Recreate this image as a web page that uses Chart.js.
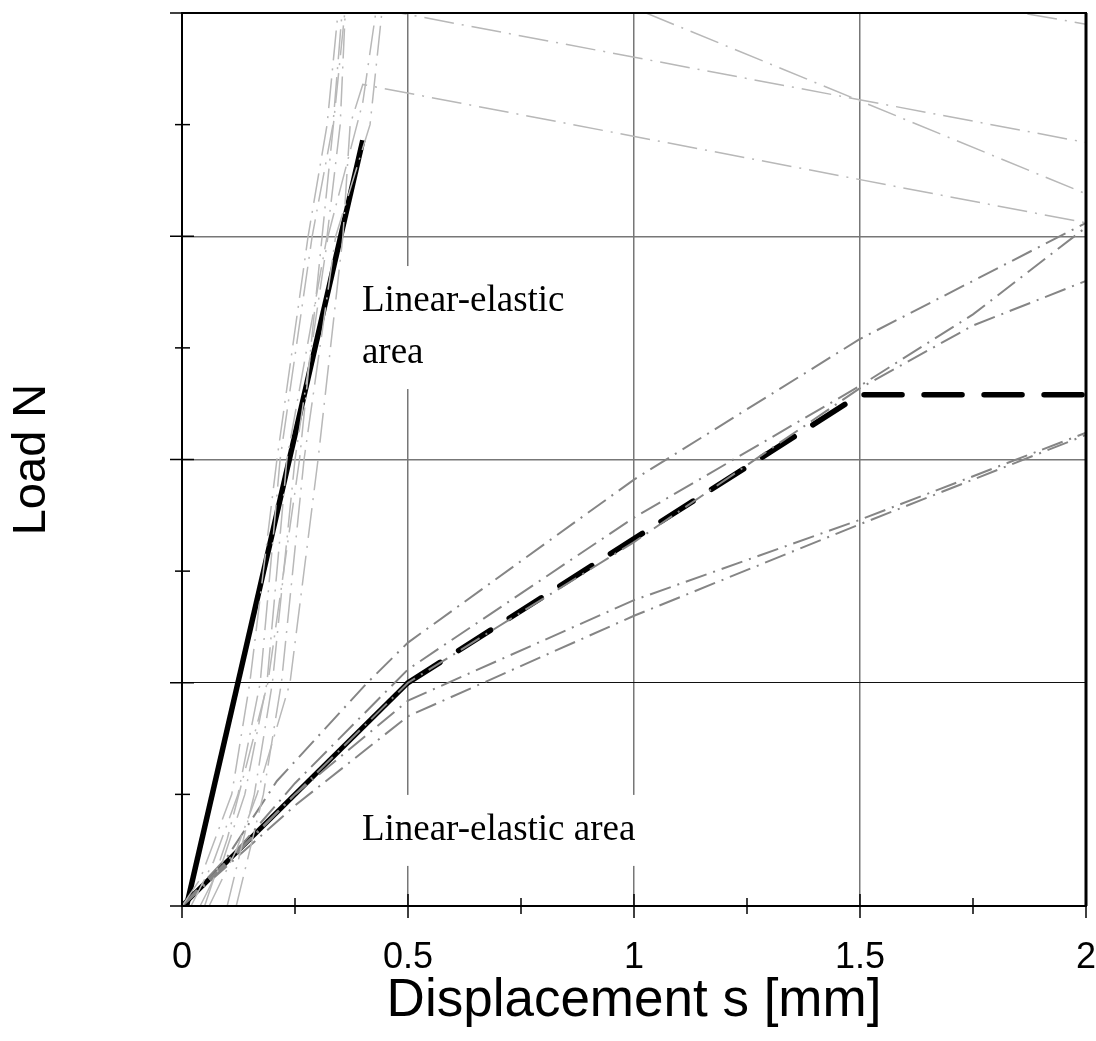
<!DOCTYPE html>
<html>
<head>
<meta charset="utf-8">
<script src="https://cdn.jsdelivr.net/npm/chart.js@4.4.1/dist/chart.umd.min.js"></script>
<style>
  body { margin: 0; background: #fff; }
</style>
</head>
<body>
<canvas id="loadChart" width="1096" height="1041"></canvas>
<script>
'use strict';

// Axis ticks
var xMajorTicks = [0, 0.5, 1, 1.5, 2];
var xMinorTicks = [0.25, 0.75, 1.25, 1.75];
var yMajorTicks = [0, 1, 2, 3, 4];
var yMinorTicks = [0.5, 1.5, 2.5, 3.5];

// Idealised lines (black)
var stiffLine = [[0.01, 0], [0.40, 3.43]];
var softLine = [[0, 0], [0.5, 1.0]];
var softDashed = [[0.5, 1.0], [1.5, 2.29], [2, 2.29]];

// Measured curves, steep group (light grey)
var steep1 = [[0, 0], [0.04, 0.12], [0.11, 0.5], [0.15, 1], [0.21, 2], [0.279, 3], [0.321, 3.5], [0.345, 4], [0.355, 4.3]];
var steep2 = [[0.02, 0], [0.07, 0.2], [0.124, 0.5], [0.173, 1], [0.217, 2], [0.288, 3], [0.334, 3.5], [0.354, 4], [0.36, 4.3]];
var steep3 = [[0.04, 0], [0.09, 0.2], [0.139, 0.5], [0.188, 1], [0.232, 2], [0.321, 3], [0.35, 3.5], [0.361, 4], [0.37, 4.3]];
var steep4 = [[0.06, 0], [0.12, 0.25], [0.166, 0.5], [0.239, 1], [0.301, 2], [0.356, 3], [0.372, 3.5], [0.40, 3.68], [2, 3.06]];
var steep5 = [[0.1, 0], [0.16, 0.5], [0.2, 1], [0.25, 2], [0.323, 3], [0.40, 3.6], [0.43, 4.02], [2, 3.42]];
var steep6 = [[0.12, 0], [0.18, 0.5], [0.22, 1], [0.27, 2], [0.34, 3], [0.416, 3.5], [0.442, 4.0], [0.45, 4.48], [2, 3.19]];
var steep7 = [[0.05, 0], [0.1, 0.3], [0.19, 1], [0.26, 2], [0.31, 3], [0.36, 4], [0.44, 4.5], [2, 3.95]];

// Measured curves, soft group (mid grey)
var soft1 = [[0, 0], [0.1, 0.22], [0.21, 0.56], [0.41, 1.0], [0.5, 1.18], [1, 1.91], [1.5, 2.54], [2, 3.06]];
var soft2 = [[0, 0], [0.1, 0.2], [0.25, 0.55], [0.5, 1.06], [1, 1.74], [1.5, 2.33], [1.75, 2.65], [2, 3.04]];
var soft3 = [[0, 0], [0.1, 0.19], [0.25, 0.5], [0.5, 1.0], [1, 1.63], [1.5, 2.32], [1.75, 2.6], [2, 2.8]];
var soft4 = [[0, 0], [0.1, 0.2], [0.25, 0.5], [0.5, 0.92], [1, 1.37], [1.5, 1.73], [2, 2.12]];
var soft5 = [[0, 0], [0.1, 0.18], [0.25, 0.45], [0.5, 0.85], [1, 1.30], [1.5, 1.71], [2, 2.11]];

// Text labels inside the plot
var areaLabels = [
  { lines: ['Linear-elastic', 'area'], x: 0.398, y: 2.665 },
  { lines: ['Linear-elastic area'], x: 0.398, y: 0.296 }
];

function toPoints(pairs) {
  return pairs.map(function(p) { return { x: p[0], y: p[1] }; });
}

var datasets = [];
[steep1, steep2, steep3, steep4, steep5, steep6, steep7].forEach(function(curve) {
  datasets.push({
    data: toPoints(curve),
    borderColor: '#b8b8b8',
    borderWidth: 1.5,
    borderDash: [30, 8, 2, 8]
  });
});
[soft1, soft2, soft3, soft4, soft5].forEach(function(curve) {
  datasets.push({
    data: toPoints(curve),
    borderColor: '#858585',
    borderWidth: 2,
    borderDash: [22, 7, 2, 7]
  });
});
datasets.push({ data: toPoints(stiffLine), borderColor: '#000', borderWidth: 5.5 });
datasets.push({ data: toPoints(softLine), borderColor: '#000', borderWidth: 5 });
datasets.push({
  data: toPoints(softDashed),
  borderColor: '#000',
  borderWidth: 5.5,
  borderDash: [38, 22],
  borderCapStyle: 'round'
});

// Frame, crossing tick marks and the area labels
var decorPlugin = {
  id: 'decor',
  beforeDatasetsDraw: function(chart) {
    var ctx = chart.ctx;
    var xs = chart.scales.x, ys = chart.scales.y;
    ctx.save();
    ctx.font = '37px "Liberation Serif", "Times New Roman", serif';
    ctx.textBaseline = 'alphabetic';
    areaLabels.forEach(function(label) {
      var px = xs.getPixelForValue(label.x);
      var py = ys.getPixelForValue(label.y);
      var w = Math.max.apply(null, label.lines.map(function(l) { return ctx.measureText(l).width; }));
      var h = (label.lines.length - 1) * 52;
      ctx.fillStyle = '#fff';
      ctx.fillRect(px - 8, py - 45, w + 16, h + 71);
      ctx.fillStyle = '#000';
      label.lines.forEach(function(l, i) {
        ctx.fillText(l, px, py + i * 52);
      });
    });
    ctx.restore();
  },
  afterDatasetsDraw: function(chart) {
    var ctx = chart.ctx;
    var area = chart.chartArea;
    var xs = chart.scales.x, ys = chart.scales.y;
    ctx.save();
    ctx.strokeStyle = '#000';
    ctx.lineWidth = 1.5;
    xMajorTicks.forEach(function(v) {
      var px = xs.getPixelForValue(v);
      ctx.beginPath(); ctx.moveTo(px, area.bottom - 12); ctx.lineTo(px, area.bottom + 12); ctx.stroke();
    });
    xMinorTicks.forEach(function(v) {
      var px = xs.getPixelForValue(v);
      ctx.beginPath(); ctx.moveTo(px, area.bottom - 8); ctx.lineTo(px, area.bottom + 8); ctx.stroke();
    });
    yMajorTicks.forEach(function(v) {
      var py = ys.getPixelForValue(v);
      ctx.beginPath(); ctx.moveTo(area.left - 12, py); ctx.lineTo(area.left + 12, py); ctx.stroke();
    });
    yMinorTicks.forEach(function(v) {
      var py = ys.getPixelForValue(v);
      ctx.beginPath(); ctx.moveTo(area.left - 7, py); ctx.lineTo(area.left + 8, py); ctx.stroke();
    });
    ctx.lineWidth = 2;
    ctx.strokeRect(area.left, area.top, area.right - area.left, area.bottom - area.top);
    ctx.lineWidth = 3;
    ctx.beginPath(); ctx.moveTo(area.right, area.top); ctx.lineTo(area.right, area.bottom); ctx.stroke();
    ctx.restore();
  }
};

var ctx = document.getElementById('loadChart').getContext('2d');
new Chart(ctx, {
  type: 'line',
  data: { datasets: datasets },
  options: {
    responsive: false,
    animation: false,
    devicePixelRatio: 1,
    layout: { padding: { top: 13, right: 10 } },
    elements: {
      point: { radius: 0 },
      line: { tension: 0, fill: false }
    },
    plugins: {
      legend: { display: false },
      tooltip: { enabled: false }
    },
    scales: {
      x: {
        type: 'linear',
        min: 0,
        max: 2,
        afterFit: function(scale) {
          scale.height = 135;
          scale.paddingLeft = 0;
          scale.paddingRight = 0;
        },
        ticks: {
          stepSize: 0.5,
          padding: 30,
          color: '#000',
          font: { family: '"Liberation Sans", Arial', size: 36 },
          callback: function(v) { return String(v); }
        },
        grid: {
          drawTicks: false,
          lineWidth: 1.5,
          color: function(c) {
            return (c.tick && (c.tick.value === 0 || c.tick.value === 2)) ? 'rgba(0,0,0,0)' : '#777';
          }
        },
        border: { display: false },
        title: {
          display: true,
          text: 'Displacement s [mm]',
          color: '#000',
          font: { family: '"Liberation Sans", Arial', size: 53 },
          padding: { top: 0, bottom: 8 }
        }
      },
      y: {
        type: 'linear',
        min: 0,
        max: 4,
        afterFit: function(scale) { scale.width = 182; },
        ticks: { stepSize: 1, display: false },
        grid: {
          drawTicks: false,
          lineWidth: function(c) { return c.tick && c.tick.value === 1 ? 1 : 1.5; },
          color: function(c) {
            if (!c.tick || c.tick.value === 0 || c.tick.value === 4) return 'rgba(0,0,0,0)';
            return c.tick.value === 1 ? '#111' : '#777';
          }
        },
        border: { display: false },
        title: {
          display: true,
          text: 'Load N',
          color: '#000',
          font: { family: '"Liberation Sans", Arial', size: 47 },
          padding: { top: 4, bottom: 0 }
        }
      }
    }
  },
  plugins: [decorPlugin]
});
</script>
</body>
</html>
